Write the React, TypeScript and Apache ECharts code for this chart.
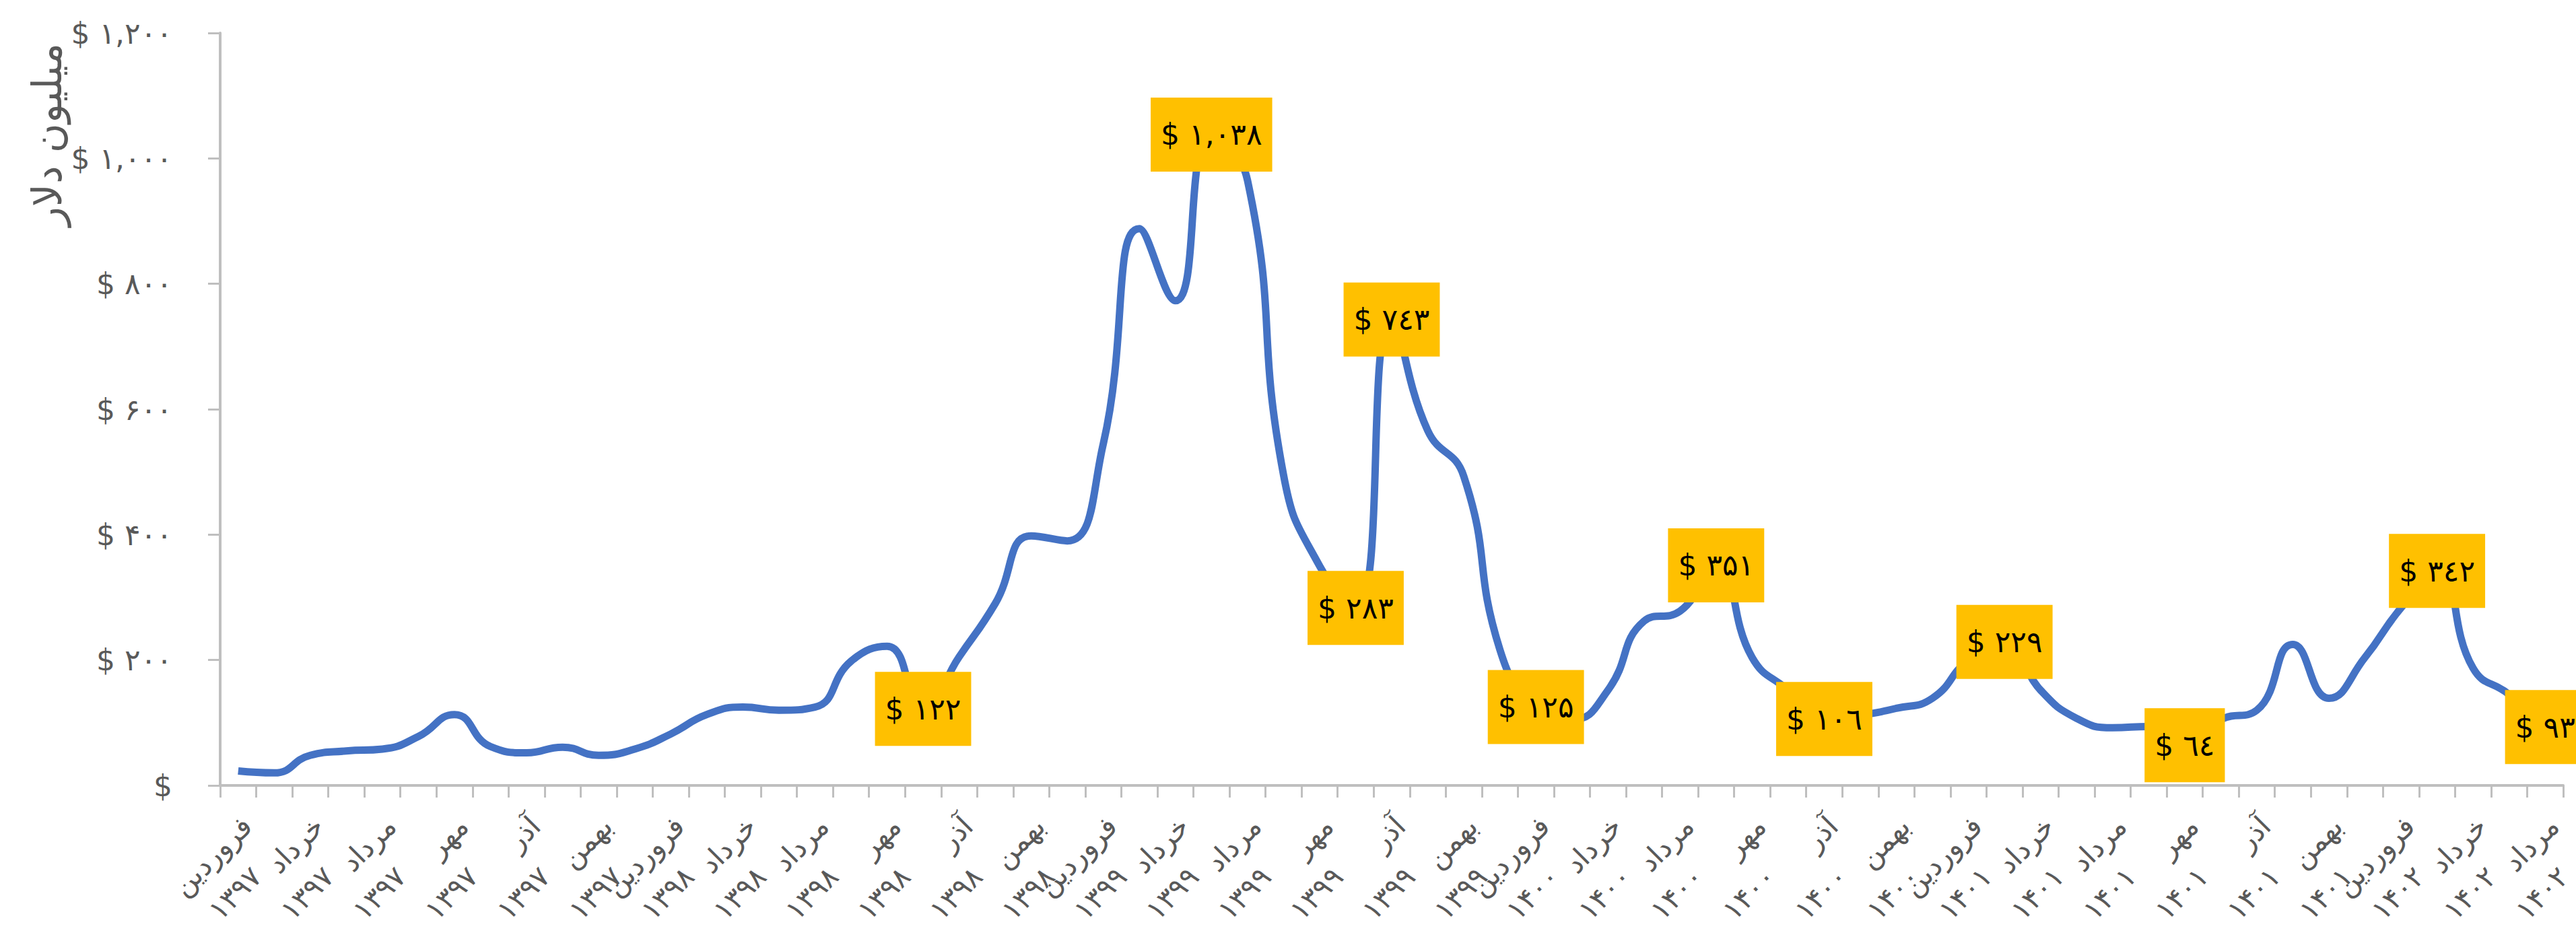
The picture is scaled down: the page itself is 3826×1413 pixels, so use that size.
import React, { useEffect, useRef } from 'react';
import * as echarts from 'echarts';

// Persian calendar months and years covered by the series
const monthNames = [
  'فروردین', 'اردیبهشت', 'خرداد', 'تیر', 'مرداد', 'شهریور',
  'مهر', 'آبان', 'آذر', 'دی', 'بهمن', 'اسفند',
];
const yearNames = ['۱۳۹۷', '۱۳۹۸', '۱۳۹۹', '۱۴۰۰', '۱۴۰۱', '۱۴۰۲'];
const monthCount = 65;

// Monthly values, million dollars
const monthlyValues = [
  23, 20, 48, 55, 58, 78, 113, 62, 52, 61, 48, 58,
  82, 113, 125, 120, 125, 198, 222, 122, 205, 290, 398, 390,
  545, 888, 773, 1038, 965, 495, 350, 283, 743, 566, 493, 217,
  125, 105, 152, 262, 278, 351, 204, 152, 106, 112, 123, 139,
  200, 229, 152, 107, 92, 94, 64, 105, 120, 225, 139, 204,
  283, 342, 187, 145, 93,
];

// Months whose value is called out with a label
const labeledMonths = [19, 27, 31, 32, 36, 41, 44, 49, 54, 61, 64];

const yTicks = [0, 200, 400, 600, 800, 1000, 1200];

const categories: string[] = [];
for (let y = 0; y < yearNames.length; y++) {
  for (let m = 0; m < monthNames.length; m++) {
    if (categories.length < monthCount) categories.push(`${monthNames[m]} ${yearNames[y]}`);
  }
}

const FONT = 'DejaVu Sans';
const GREY = '#595959';
const AXIS_GREY = '#BFBFBF';
const axisDigits = '۰۱۲۳۴۵۶۷۸۹';
const labelDigits = '۰۱۲۳٤۵٦۷۸۹';

function formatNumber(n: number, digits: string): string {
  const grouped = Math.round(n).toString().replace(/\B(?=(\d{3})+(?!\d))/g, ',');
  return grouped.replace(/\d/g, (d) => digits[Number(d)]);
}

export default function App() {
  const ref = useRef<HTMLDivElement>(null);

  useEffect(() => {
    document.body.style.margin = '0';
    if (!ref.current) return;
    const chart = echarts.init(ref.current, undefined, { renderer: 'svg' });

    chart.setOption({
      animation: false,
      backgroundColor: '#ffffff',
      grid: { left: 327, right: 19, top: 49, bottom: 246, outerBoundsMode: 'none', containLabel: false },
      xAxis: {
        type: 'category',
        data: categories,
        boundaryGap: true,
        axisLine: { show: true, lineStyle: { color: AXIS_GREY, width: 4 } },
        axisTick: { show: true, interval: 0, length: 18, lineStyle: { color: AXIS_GREY, width: 3 } },
        splitLine: { show: false },
        axisLabel: {
          // every month gets a slot; only every second month is written
          interval: 0,
          rotate: 45,
          align: 'right',
          verticalAlign: 'top',
          margin: 22,
          color: GREY,
          fontSize: 42,
          fontFamily: FONT,
          lineHeight: 63,
          formatter: (v: string, idx: number) => {
            if (idx % 2 === 1) return '';
            const [m, y] = v.split(' ');
            return `{m|${m}}\n{y|${y}}`;
          },
          rich: {
            m: { fontSize: 42, color: GREY, fontFamily: FONT, lineHeight: 63, padding: [0, 13, 0, 0] },
            y: { fontSize: 42, color: GREY, fontFamily: FONT, lineHeight: 63, padding: [0, 56, 0, 0] },
          },
        },
      },
      yAxis: {
        type: 'value',
        min: yTicks[0],
        max: yTicks[yTicks.length - 1],
        interval: 200,
        axisLine: { show: true, lineStyle: { color: AXIS_GREY, width: 4 } },
        axisTick: { show: true, length: 18, lineStyle: { color: AXIS_GREY, width: 3 } },
        splitLine: { show: false },
        axisLabel: {
          margin: 71,
          color: GREY,
          fontSize: 44,
          fontFamily: FONT,
          formatter: (v: number) => (v === 0 ? '$' : '$ ' + formatNumber(v, axisDigits)),
        },
      },
      graphic: [
        {
          type: 'text',
          x: 70,
          y: 200,
          rotation: Math.PI / 2,
          style: {
            text: 'میلیون دلار',
            fill: GREY,
            fontSize: 60,
            fontFamily: FONT,
            align: 'center',
            verticalAlign: 'middle',
          },
        },
      ],
      series: [
        {
          type: 'line',
          data: monthlyValues,
          smooth: true,
          symbol: 'none',
          lineStyle: { color: '#4472C4', width: 11 },
          z: 2,
        },
        {
          type: 'scatter',
          data: labeledMonths.map((i) => [i, monthlyValues[i]]),
          symbolSize: 1,
          itemStyle: { color: 'rgba(0,0,0,0)', opacity: 1 },
          silent: true,
          z: 3,
          label: {
            show: true,
            position: 'inside',
            formatter: (p: any) => '$ ' + formatNumber(p.value[1], labelDigits),
            backgroundColor: '#FFC000',
            color: '#000000',
            fontSize: 44,
            fontFamily: FONT,
            padding: [33, 15],
          },
        },
      ],
    });

    return () => chart.dispose();
  }, []);

  return <div ref={ref} style={{ width: '3826px', height: '1413px' }} />;
}
